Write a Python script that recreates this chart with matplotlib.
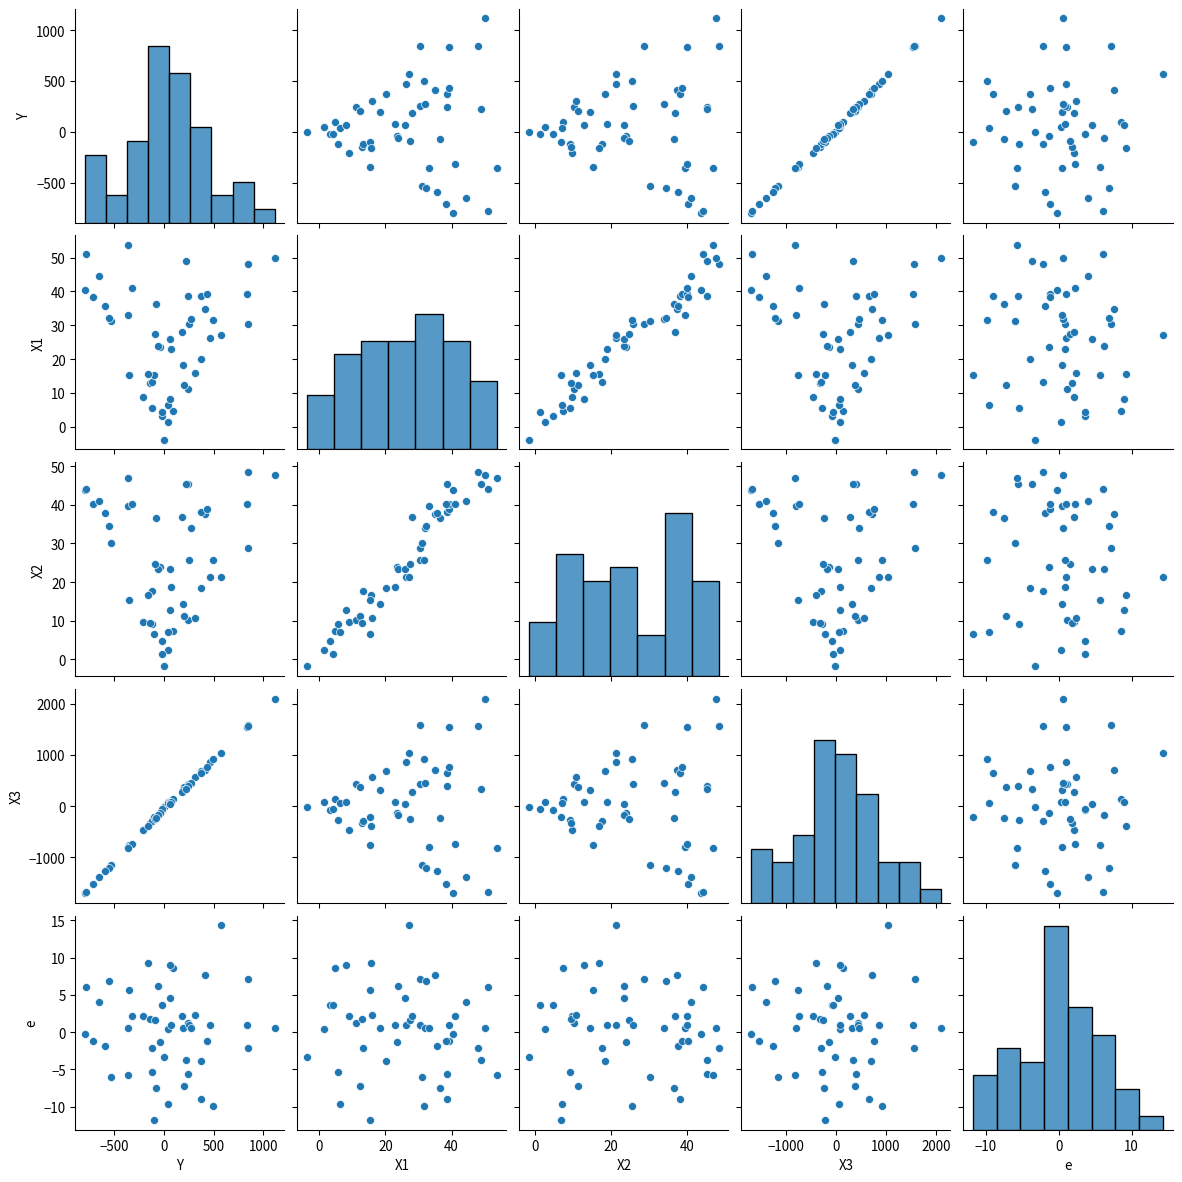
import pandas as pd
import seaborn as sns
import matplotlib
matplotlib.use('Agg')
import matplotlib.pyplot as plt

plt.rcParams['font.family'] = ['Noto Sans CJK JP', 'DejaVu Sans']

Y = [0, 45, -19, -19, 96, 38, -122, 64, -208, 244,
     205, -144, -122, -99, -160, -346, 308, 196, 375, 74,
     -38, -58, 64, 468, 571, -93, 186, 250, 272, 843,
     497, -532, -555, -356, 413, -74, -590, 244, 375, 429,
     833, -708, -795, -317, -647, 843, 224, 1115, -779, -356]
X1 = [-3.8, 1.5, 3.3, 4.3, 4.8, 6.4, 5.7, 8.1, 8.9, 11.1,
      12.3, 12.8, 13.1, 15.2, 15.7, 15.4, 16.0, 18.3, 20.1, 23.0,
      23.6, 23.8, 25.9, 26.3, 27.1, 27.4, 28.0, 30.3, 32.0, 30.5,
      31.6, 31.2, 32.2, 33.1, 34.9, 36.4, 35.6, 38.6, 38.7, 39.3,
      39.3, 38.3, 40.4, 40.9, 44.5, 48.0, 48.9, 50.0, 51.0, 53.7]
X2 = [-1.8, 2.5, 4.7, 1.3, 7.4, 7.1, 9.1, 12.7, 9.6, 10.2,
      11.3, 9.4, 17.6, 6.7, 16.7, 15.3, 10.7, 14.4, 18.4, 18.8,
      23.9, 23.3, 23.3, 21.2, 21.2, 24.8, 36.9, 25.8, 34.0, 28.7,
      25.6, 30.2, 34.6, 39.6, 37.5, 36.7, 37.8, 45.4, 38.2, 38.8,
      40.1, 40.3, 43.7, 40.1, 41.1, 48.5, 45.3, 47.8, 44.2, 47.0]
X3 = [-13, 77, -83, -64, 134, 64, -274, 77, -459, 434,
      377, -325, -287, -217, -389, -759, 562, 319, 696, 83,
      -140, -179, 38, 862, 1047, -255, 281, 434, 453, 1589,
      919, -1149, -1206, -798, 715, -236, -1264, 396, 657, 772,
      1551, -1525, -1700, -740, -1391, 1570, 338, 2100, -1680, -817]
e = [-3.3, 0.35, 3.6, 3.6, 8.6, -9.6, -5.4, 9.0, 2.1, 1.2,
     -7.2, 1.75, -2.2, -11.8, 9.2, 5.6, 2.3, 0.5, -3.9, 0.9,
     -1.4, 6.2, 4.6, 1.0, 14.3, 1.6, 2.1, 0.9, 0.6, 7.1,
     -9.9, -6.0, 6.9, 0.5, 7.6, -7.5, -1.9, -5.6, -9.0, -1.2,
     1.0, -1.2, -0.3, 2.2, 4.0, -2.1, -3.7, 0.6, 6.1, -5.7]

df = pd.DataFrame({'Y': Y, 'X1': X1, 'X2': X2, 'X3': X3, 'e': e})

g = sns.pairplot(df, height=2.5)
g.savefig('out.png', dpi=96)
